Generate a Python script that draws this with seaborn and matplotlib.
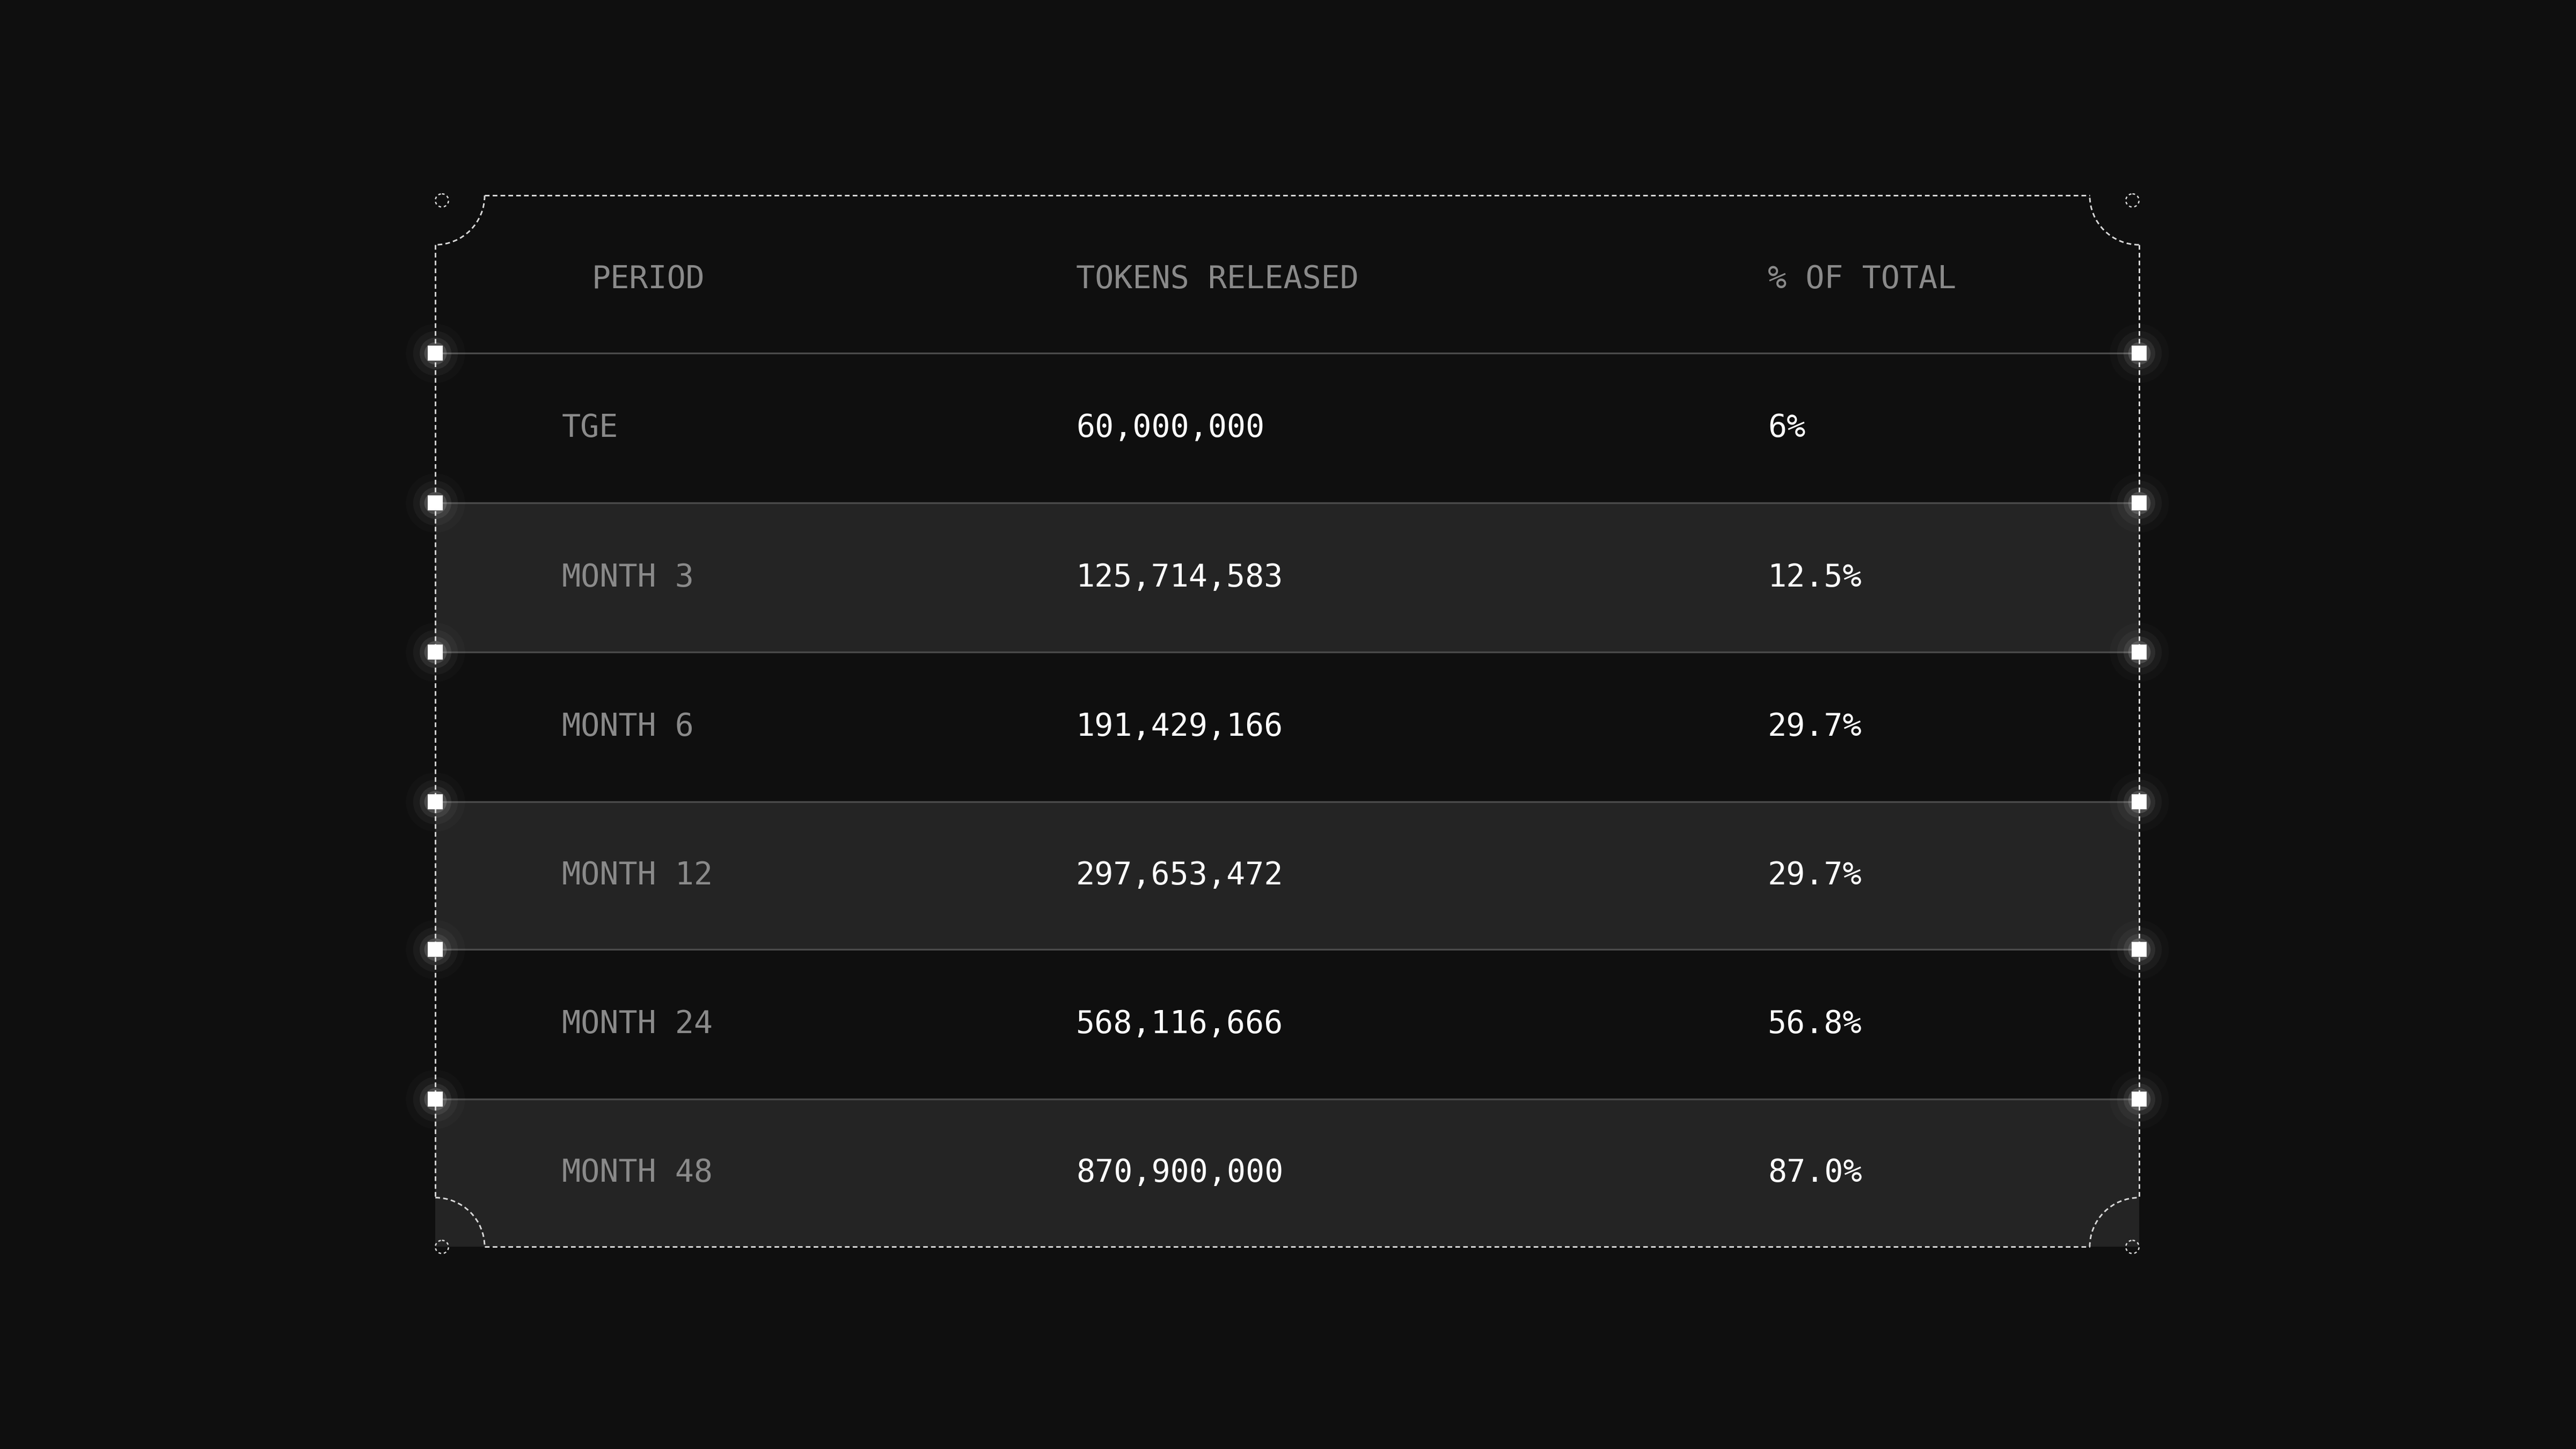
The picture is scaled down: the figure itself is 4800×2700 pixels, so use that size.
import numpy as np
import pandas as pd
import matplotlib
matplotlib.use("Agg")
import matplotlib.pyplot as plt
import seaborn as sns
from matplotlib.patches import Arc, Circle

periods = ["TGE", "MONTH 3", "MONTH 6", "MONTH 12", "MONTH 24", "MONTH 48"]
tokens = ["60,000,000", "125,714,583", "191,429,166", "297,653,472", "568,116,666", "870,900,000"]
pct = ["6%", "12.5%", "29.7%", "29.7%", "56.8%", "87.0%"]
headers = ["PERIOD", "TOKENS RELEASED", "% OF TOTAL"]

BG = "#0f0f0f"
SHADE = "#242424"
GRAY = "#8a8a8a"
FONT = "DejaVu Sans Mono"

sns.set_theme(style="white", rc={"figure.facecolor": BG, "axes.facecolor": BG})
fig = plt.figure(figsize=(16, 9), dpi=300)
ax = fig.add_axes([0, 0, 1, 1])
ax.set_xlim(0, 1568)
ax.set_ylim(882, 0)
ax.axis("off")

left, right, top, bottom = 265, 1302, 119, 759
lines_y = [215, 306, 397, 488, 578, 669]
row_edges = lines_y + [bottom]

# shaded rows
for i in range(len(periods)):
    if i % 2 == 1:
        ax.fill_between([left, right], row_edges[i], row_edges[i + 1], color=SHADE, lw=0, zorder=1)

# row separators
for y in lines_y:
    ax.plot([left, right], [y, y], color="#4a4a4a", lw=0.8, zorder=2)

# dashed border with concave corners
r = 30
dash = dict(color="#d8d8d8", lw=0.7, ls=(0, (3, 2)), zorder=3)
ax.plot([left + r, right - r], [top, top], **dash)
ax.plot([left + r, right - r], [bottom, bottom], **dash)
ax.plot([left, left], [top + r, bottom - r], **dash)
ax.plot([right, right], [top + r, bottom - r], **dash)
for cx, cy, t1, t2 in [(left, top, 0, 90), (right, top, 90, 180),
                      (right, bottom, 180, 270), (left, bottom, 270, 360)]:
    ax.add_patch(Arc((cx, cy), 2 * r, 2 * r, theta1=t1, theta2=t2, **dash))
    ax.add_patch(Circle((cx + (4 if cx == left else -4), cy + (3 if cy == top else 0)), 4,
                        fill=False, ec="#d8d8d8", lw=0.6, ls=(0, (2, 2)), zorder=3))

# glowing square nodes
nodes = pd.DataFrame({"x": [left] * len(lines_y) + [right] * len(lines_y),
                      "y": lines_y * 2})
for s, a in [(700, 0.02), (400, 0.04), (200, 0.08), (100, 0.15)]:
    sns.scatterplot(data=nodes, x="x", y="y", ax=ax, s=s, color="white", alpha=a,
                    marker="o", linewidth=0, zorder=4, legend=False)
sns.scatterplot(data=nodes, x="x", y="y", ax=ax, s=45, color="white", marker="s",
                linewidth=0, zorder=5, legend=False)

# header
hx = [360, 655, 1076]
for x, h in zip(hx, headers):
    ax.text(x, 170, h, color=GRAY, fontsize=14, family=FONT, va="center", ha="left")

# body
for i, (p, t, c) in enumerate(zip(periods, tokens, pct)):
    yc = (row_edges[i] + row_edges[i + 1]) / 2
    ax.text(342, yc, p, color=GRAY, fontsize=14, family=FONT, va="center", ha="left")
    ax.text(655, yc, t, color="white", fontsize=14, family=FONT, va="center", ha="left")
    ax.text(1076, yc, c, color="white", fontsize=14, family=FONT, va="center", ha="left")

fig.savefig("out.png", dpi=300, facecolor=BG)
